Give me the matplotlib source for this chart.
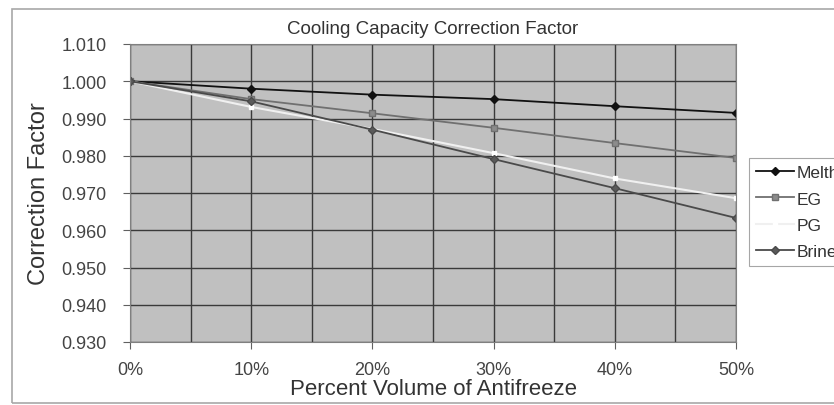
import matplotlib
matplotlib.use("Agg")
import matplotlib.pyplot as plt
import matplotlib.patches as patches
import numpy as np

plt.rcParams['font.family'] = ['Liberation Sans', 'DejaVu Sans']

# data
percent = [0, 10, 20, 30, 40, 50]
melth = [1.000, 0.998, 0.9964, 0.9952, 0.9933, 0.9915]
eg = [1.000, 0.9952, 0.9914, 0.9875, 0.9834, 0.9794]
pg = [1.000, 0.9931, 0.9872, 0.9807, 0.9739, 0.9686]
brine = [1.000, 0.9946, 0.9870, 0.9791, 0.9713, 0.9633]

y_ticks = [0.930, 0.940, 0.950, 0.960, 0.970, 0.980, 0.990, 1.000, 1.010]
x_ticks = [0, 10, 20, 30, 40, 50]

W, H = 834, 406
fig = plt.figure(figsize=(W / 100, H / 100), dpi=100)
fig.patch.set_facecolor('white')

# outer chart frame
frame = patches.Rectangle((12 / W, 2 / H), 1.0, 1 - 12 / H, transform=fig.transFigure,
                          facecolor='none', edgecolor='#a8a8a8', linewidth=1.2)
fig.patches.append(frame)

ax = fig.add_axes([130 / W, 63 / H, 606 / W, 298 / H])
ax.set_facecolor('#c0c0c0')

ax.plot(percent, melth, color='#111111', linewidth=1.3, marker='D', markersize=4.5,
        markerfacecolor='#111111', label='Melth')
ax.plot(percent, eg, color='#707070', linewidth=1.3, marker='s', markersize=5,
        markerfacecolor='#8c8c8c', markeredgecolor='#707070', label='EG')
ax.plot(percent, pg, color='#f0f0f0', linewidth=1.5, marker='s', markersize=3.5,
        markerfacecolor='#ffffff', markeredgecolor='#ffffff', label='PG')
ax.plot(percent, brine, color='#4a4a4a', linewidth=1.3, marker='D', markersize=4,
        markerfacecolor='#5a5a5a', markeredgecolor='#4a4a4a', label='Brine')

ax.set_xlim(0, 50)
ax.set_ylim(0.930, 1.010)
ax.set_xticks(x_ticks)
ax.set_xticklabels([f"{v}%" for v in x_ticks])
ax.set_xticks(np.arange(5, 50, 10), minor=True)
ax.set_yticks(y_ticks)
ax.set_yticklabels([f"{v:.3f}" for v in y_ticks])

ax.grid(True, which='both', color='#3a3a3a', linewidth=1.0)
ax.set_axisbelow(True)
ax.tick_params(axis='x', which='minor', length=0)
ax.tick_params(axis='both', which='major', labelsize=13, labelcolor='#444444',
               color='#606060', length=5, width=0.8)
ax.tick_params(axis='x', pad=9)
ax.tick_params(axis='y', pad=12)
for s in ax.spines.values():
    s.set_color('#808080')
    s.set_linewidth(0.8)

ax.set_title('Cooling Capacity Correction Factor', fontsize=13.5, color='#333333', pad=8)
ax.set_ylabel('Correction Factor', fontsize=17, color='#333333', labelpad=8)
ax.set_xlabel('Percent Volume of Antifreeze', fontsize=16, color='#333333', labelpad=0)

leg = fig.legend(loc='upper left', bbox_to_anchor=(749 / W, 1 - 159 / H), fontsize=12.5,
                 frameon=True, fancybox=False, handlelength=2.2, borderpad=0.4,
                 labelspacing=0.65, handletextpad=0.15, borderaxespad=0)
leg.get_frame().set_edgecolor('#909090')
leg.get_frame().set_linewidth(0.8)
for t in leg.get_texts():
    t.set_color('#333333')

fig.savefig('out.png', dpi=100, facecolor='white')
